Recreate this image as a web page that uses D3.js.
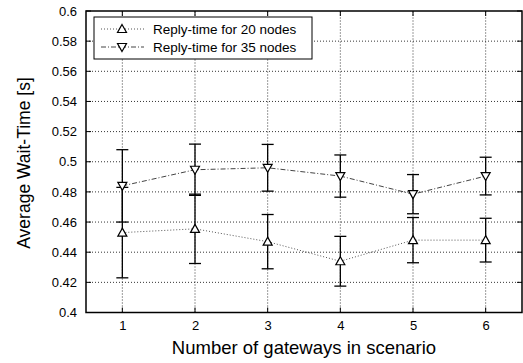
<!DOCTYPE html>
<html lang="en">
<head>
<meta charset="UTF-8">
<title>Average Wait-Time</title>
<script src="https://d3js.org/d3.v7.min.js"></script>
<style>
    body { margin: 0; background: #fff; }
    text { font-family: "Liberation Sans", Arial, sans-serif; fill: #000; }
</style>
</head>
<body>
<svg id="chart" width="523" height="363"></svg>
<script>
    // data
    const gateways = [1, 2, 3, 4, 5, 6];
    const wait20 = [0.453, 0.4555, 0.447, 0.434, 0.448, 0.448];
    const err20 = [0.030, 0.023, 0.018, 0.0165, 0.015, 0.0145];
    const wait35 = [0.484, 0.4947, 0.496, 0.4905, 0.4785, 0.4905];
    const err35 = [0.024, 0.017, 0.0155, 0.014, 0.013, 0.0125];
    const yTicks = [0.4, 0.42, 0.44, 0.46, 0.48, 0.5, 0.52, 0.54, 0.56, 0.58, 0.6];
    const seriesNames = ["Reply-time for 20 nodes", "Reply-time for 35 nodes"];

    const svg = d3.select("#chart");
    const margin = { top: 11, right: 1, bottom: 50, left: 86 };
    const width = +svg.attr("width");
    const height = +svg.attr("height");

    const x = d3.scaleLinear().domain([0.5, 6.5]).range([margin.left, width - margin.right]);
    const y = d3.scaleLinear().domain([0.4, 0.6]).range([height - margin.bottom - 0.5, margin.top]);

    // grid
    const grid = svg.append("g");
    grid.selectAll(".gy").data(yTicks.slice(1, -1)).join("line")
        .attr("x1", margin.left).attr("x2", width - margin.right)
        .attr("y1", d => y(d)).attr("y2", d => y(d))
        .attr("stroke", "#000").attr("stroke-width", 0.8).attr("stroke-dasharray", "1,2");
    grid.selectAll(".gx").data(gateways).join("line")
        .attr("x1", d => x(d)).attr("x2", d => x(d))
        .attr("y1", y(0.4)).attr("y2", y(0.6))
        .attr("stroke", "#000").attr("stroke-width", 0.8).attr("stroke-dasharray", "1,2");

    // axes
    const yAxis = svg.append("g")
        .attr("transform", "translate(" + margin.left + ",0)")
        .call(d3.axisLeft(y).tickValues(yTicks).tickSize(0).tickPadding(9).tickFormat(d3.format("")));
    yAxis.select(".domain").remove();
    yAxis.selectAll("text").style("font-size", "13px");

    const xAxis = svg.append("g")
        .attr("transform", "translate(0," + y(0.4) + ")")
        .call(d3.axisBottom(x).tickValues(gateways).tickSize(0).tickPadding(8).tickFormat(d3.format("d")));
    xAxis.select(".domain").remove();
    xAxis.selectAll("text").style("font-size", "13px");

    // inner ticks on all sides
    const ticks = svg.append("g").attr("stroke", "#000").attr("stroke-width", 1);
    ticks.selectAll(".tl").data(yTicks).join("line")
        .attr("x1", margin.left).attr("x2", margin.left + 5)
        .attr("y1", d => y(d)).attr("y2", d => y(d));
    ticks.selectAll(".tr").data(yTicks).join("line")
        .attr("x1", width - margin.right - 5).attr("x2", width - margin.right)
        .attr("y1", d => y(d)).attr("y2", d => y(d));
    ticks.selectAll(".tb").data(gateways).join("line")
        .attr("x1", d => x(d)).attr("x2", d => x(d))
        .attr("y1", y(0.4)).attr("y2", y(0.4) - 5);
    ticks.selectAll(".tt").data(gateways).join("line")
        .attr("x1", d => x(d)).attr("x2", d => x(d))
        .attr("y1", y(0.6)).attr("y2", y(0.6) + 5);

    // frame
    svg.append("rect")
        .attr("x", margin.left).attr("y", y(0.6))
        .attr("width", x(6.5) - x(0.5)).attr("height", y(0.4) - y(0.6))
        .attr("fill", "none").attr("stroke", "#000").attr("stroke-width", 1.5);

    const series = [
        { vals: wait20, errs: err20, dash: "1,2", color: "#555", up: true },
        { vals: wait35, errs: err35, dash: "5,2,1,2", color: "#444", up: false }
    ];

    function triPath(up) {
        return up ? "M0,-4.5L4.5,3.5L-4.5,3.5Z" : "M0,4.5L4.5,-3.5L-4.5,-3.5Z";
    }

    const line = d3.line().x((d, i) => x(gateways[i])).y(d => y(d));

    series.forEach(function (s) {
        svg.append("path")
            .datum(s.vals)
            .attr("d", line)
            .attr("fill", "none")
            .attr("stroke", s.color)
            .attr("stroke-width", 1)
            .attr("stroke-dasharray", s.dash);

        const g = svg.append("g").attr("stroke", "#000").attr("stroke-width", 1.3);
        g.selectAll(".bar").data(gateways).join("line")
            .attr("x1", d => x(d)).attr("x2", d => x(d))
            .attr("y1", (d, i) => y(s.vals[i] - s.errs[i]))
            .attr("y2", (d, i) => y(s.vals[i] + s.errs[i]));
        g.selectAll(".capt").data(gateways).join("line")
            .attr("x1", d => x(d) - 6).attr("x2", d => x(d) + 6)
            .attr("y1", (d, i) => y(s.vals[i] + s.errs[i]))
            .attr("y2", (d, i) => y(s.vals[i] + s.errs[i]));
        g.selectAll(".capb").data(gateways).join("line")
            .attr("x1", d => x(d) - 6).attr("x2", d => x(d) + 6)
            .attr("y1", (d, i) => y(s.vals[i] - s.errs[i]))
            .attr("y2", (d, i) => y(s.vals[i] - s.errs[i]));

        svg.append("g").selectAll("path").data(gateways).join("path")
            .attr("transform", (d, i) => "translate(" + x(d) + "," + y(s.vals[i]) + ")")
            .attr("d", triPath(s.up))
            .attr("fill", "#fff")
            .attr("stroke", "#000")
            .attr("stroke-width", 1.2);
    });

    // legend
    const legend = svg.append("g");
    legend.append("rect")
        .attr("x", 94).attr("y", 17).attr("width", 218).attr("height", 42)
        .attr("fill", "#fff").attr("stroke", "#000").attr("stroke-width", 1);
    series.forEach(function (s, i) {
        const ly = 29 + i * 18;
        legend.append("line")
            .attr("x1", 101).attr("x2", 144).attr("y1", ly).attr("y2", ly)
            .attr("stroke", s.color).attr("stroke-width", 1)
            .attr("stroke-dasharray", s.dash);
        legend.append("path")
            .attr("transform", "translate(122," + ly + ")")
            .attr("d", triPath(s.up))
            .attr("fill", "#fff").attr("stroke", "#000").attr("stroke-width", 1.2);
        legend.append("text")
            .attr("x", 153).attr("y", ly + 5)
            .style("font-size", "13.5px")
            .text(seriesNames[i]);
    });

    // axis titles
    svg.append("text")
        .attr("x", 304).attr("y", 354)
        .attr("text-anchor", "middle")
        .style("font-size", "18.5px")
        .text("Number of gateways in scenario");
    svg.append("text")
        .attr("transform", "translate(30,163) rotate(-90)")
        .attr("text-anchor", "middle")
        .style("font-size", "17.5px")
        .text("Average Wait-Time [s]");
</script>
</body>
</html>
